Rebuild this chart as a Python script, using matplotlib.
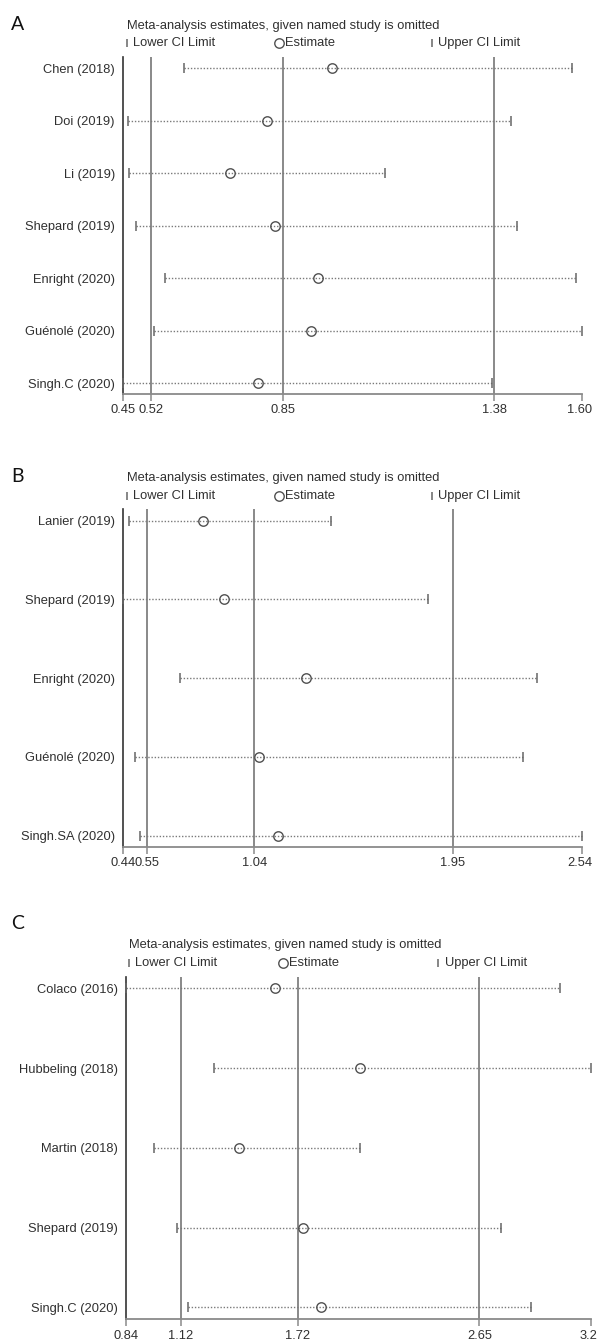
import matplotlib
matplotlib.use("Agg")
import matplotlib.pyplot as plt
from matplotlib.lines import Line2D
from matplotlib.transforms import ScaledTranslation

plt.rcParams['font.family'] = ['Liberation Sans', 'DejaVu Sans']

# ---------------- data ----------------
A_studies = ["Chen (2018)", "Doi (2019)", "Li (2019)", "Shepard (2019)",
             "Enright (2020)", "Guénolé (2020)", "Singh.C (2020)"]
A_est = [0.974, 0.810, 0.718, 0.831, 0.939, 0.920, 0.787]
A_lo = [0.602, 0.461, 0.465, 0.481, 0.555, 0.528, 0.45]
A_hi = [1.575, 1.422, 1.107, 1.438, 1.586, 1.60, 1.376]
A_ref = [0.52, 0.85, 1.38]
A_ticks = [0.45, 0.52, 0.85, 1.38, 1.60]
A_ticklabels = ["0.45", "0.52", "0.85", "1.38", "1.60"]

B_studies = ["Lanier (2019)", "Shepard (2019)", "Enright (2020)",
             "Guénolé (2020)", "Singh.SA (2020)"]
B_est = [0.806, 0.901, 1.277, 1.062, 1.147]
B_lo = [0.466, 0.44, 0.700, 0.495, 0.518]
B_hi = [1.391, 1.834, 2.334, 2.272, 2.54]
B_ref = [0.55, 1.04, 1.95]
B_ticks = [0.44, 0.55, 1.04, 1.95, 2.54]
B_ticklabels = ["0.44", "0.55", "1.04", "1.95", "2.54"]

C_studies = ["Colaco (2016)", "Hubbeling (2018)", "Martin (2018)",
             "Shepard (2019)", "Singh.C (2020)"]
C_est = [1.602, 2.036, 1.418, 1.746, 1.837]
C_lo = [0.84, 1.291, 0.985, 1.101, 1.160]
C_hi = [3.064, 3.22, 2.041, 2.762, 2.916]
C_ref = [1.12, 1.72, 2.65]
C_ticks = [0.84, 1.12, 1.72, 2.65, 3.22]
C_ticklabels = ["0.84", "1.12", "1.72", "2.65", "3.2"]

TITLE = "Meta-analysis estimates, given named study is omitted"

# ---------------- layout (pixels) ----------------
W, H = 598, 1341
fig = plt.figure(figsize=(W / 100, H / 100), dpi=100)

def fx(x):
    return x / W

def fy(y):
    return 1 - y / H

TXT = "#303030"
FS = 9.3

panels = [
    dict(letter="A", studies=A_studies, est=A_est, lo=A_lo, hi=A_hi, ref=A_ref, ticks=A_ticks,
         labels=A_ticklabels,
         left=123.3, right=581.7, top=57, bottom=394, first=68.3, last=383.3,
         title_y=26, leg_y=43, letter_y=25, title_x=126.7,
         leg_bar=127, leg_circ=278.5, leg_ubar=431.7),
    dict(letter="B", studies=B_studies, est=B_est, lo=B_lo, hi=B_hi, ref=B_ref, ticks=B_ticks,
         labels=B_ticklabels,
         left=123.3, right=581.7, top=509.3, bottom=846.7, first=520.7, last=835.7,
         title_y=478.3, leg_y=495.7, letter_y=476.7, title_x=126.7,
         leg_bar=127, leg_circ=278.5, leg_ubar=431.7),
    dict(letter="C", studies=C_studies, est=C_est, lo=C_lo, hi=C_hi, ref=C_ref, ticks=C_ticks,
         labels=C_ticklabels,
         left=126, right=590.7, top=976.7, bottom=1319.3, first=988.3, last=1307.3,
         title_y=945, leg_y=962.7, letter_y=923.3, title_x=129.3,
         leg_bar=129, leg_circ=283, leg_ubar=438.3),
]

for p in panels:
    n = len(p["studies"])
    ax = fig.add_axes([fx(p["left"]), fy(p["bottom"]),
                       (p["right"] - p["left"]) / W, (p["bottom"] - p["top"]) / H])
    s = (p["last"] - p["first"]) / (n - 1)
    ax.set_ylim(n - 1 + (p["bottom"] - p["last"]) / s, -(p["first"] - p["top"]) / s)
    ax.set_xlim(p["ticks"][0], p["ticks"][-1])

    for r in p["ref"]:
        ax.axvline(r, color="#808080", lw=1.3, zorder=1)

    ys = list(range(n))
    for i in ys:
        ax.plot([p["lo"][i], p["hi"][i]], [i, i], color="#7a7a7a", lw=1.0,
                ls=(0, (1, 1.3)), zorder=2, clip_on=False)
    ax.plot(p["lo"], ys, ls="none", marker="|", ms=7, mew=1.1, color="#666666", zorder=3, clip_on=False)
    ax.plot(p["hi"], ys, ls="none", marker="|", ms=7, mew=1.1, color="#666666", zorder=3, clip_on=False)
    ax.plot(p["est"], ys, ls="none", marker="o", ms=6.8, mfc="none", mec="#505050",
            mew=1.0, zorder=4, clip_on=False)

    for sp in ["top", "right"]:
        ax.spines[sp].set_visible(False)
    ax.spines["left"].set_color("#333333")
    ax.spines["left"].set_linewidth(1.2)
    ax.spines["bottom"].set_color("#8a8a8a")
    ax.spines["bottom"].set_linewidth(1.3)

    ax.set_yticks(ys)
    ax.set_yticklabels(p["studies"], fontsize=FS, color=TXT)
    ax.tick_params(axis="y", length=0, pad=6)
    ax.set_xticks(p["ticks"])
    ax.set_xticklabels(p["labels"], fontsize=FS, color=TXT)
    ax.tick_params(axis="x", length=5, width=1.1, color="#8a8a8a", pad=2.5)
    # keep the last label inside the figure edge
    last = ax.get_xticklabels()[-1]
    last.set_transform(last.get_transform() + ScaledTranslation(-2 / 100, 0, fig.dpi_scale_trans))

    # panel letter
    fig.text(fx(17.5), fy(p["letter_y"]), p["letter"], fontsize=14, color="#111111",
             family=["Lato", "DejaVu Sans"], ha="center", va="center")
    # title
    fig.text(fx(p["title_x"]), fy(p["title_y"]), TITLE, fontsize=FS, color=TXT,
             ha="left", va="center")
    # legend
    ly = fy(p["leg_y"])
    fig.add_artist(Line2D([fx(p["leg_bar"])], [ly], marker="|", ms=6, mew=1.1,
                          color="#666666", transform=fig.transFigure))
    fig.text(fx(p["leg_bar"] + 6), ly, "Lower CI Limit", fontsize=FS, color=TXT,
             ha="left", va="center")
    fig.add_artist(Line2D([fx(p["leg_circ"])], [ly], marker="o", ms=6.8, mfc="none",
                          mec="#505050", mew=1.0, transform=fig.transFigure))
    fig.text(fx(p["leg_circ"] + 6), ly, "Estimate", fontsize=FS, color=TXT,
             ha="left", va="center")
    fig.add_artist(Line2D([fx(p["leg_ubar"])], [ly], marker="|", ms=6, mew=1.1,
                          color="#666666", transform=fig.transFigure))
    fig.text(fx(p["leg_ubar"] + 6.5), ly, "Upper CI Limit", fontsize=FS, color=TXT,
             ha="left", va="center")

fig.savefig("out.png", dpi=100, facecolor="white")
